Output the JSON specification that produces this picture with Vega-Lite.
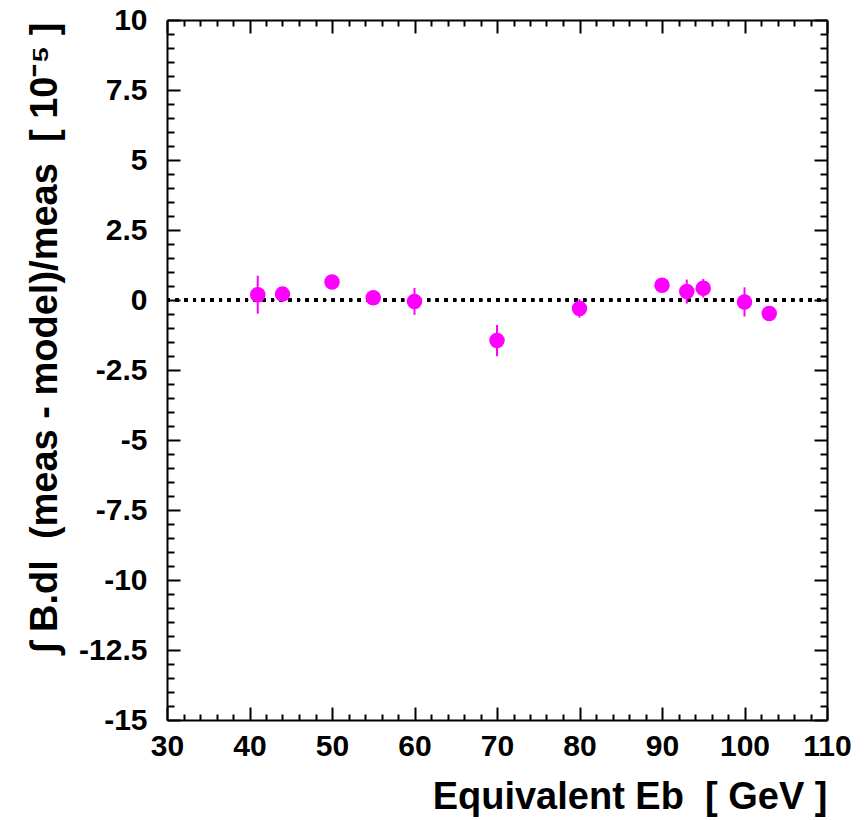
{
  "$schema": "https://vega.github.io/schema/vega-lite/v6.json",
  "width": 660,
  "height": 700,
  "autosize": "none",
  "padding": {"left": 167, "top": 20, "right": 38, "bottom": 100},
  "background": "white",
  "config": {
    "view": {"stroke": null},
    "axis": {
      "grid": false,
      "domainColor": "black",
      "domainWidth": 2,
      "tickColor": "black",
      "tickWidth": 2,
      "labelFont": "Liberation Sans",
      "labelFontWeight": "bold",
      "labelFontSize": 30,
      "labelColor": "black",
      "labelOverlap": false,
      "labelFlush": false,
      "labelBound": false,
      "titleFont": "Liberation Sans",
      "titleFontWeight": "bold",
      "titleFontSize": 38,
      "titleColor": "black"
    }
  },
  "data": {
    "values": [
      {"E": 41, "d": 0.19, "lo": -0.49, "hi": 0.87},
      {"E": 44, "d": 0.21, "lo": 0.01, "hi": 0.41},
      {"E": 50, "d": 0.64, "lo": 0.44, "hi": 0.84},
      {"E": 55, "d": 0.08, "lo": -0.12, "hi": 0.28},
      {"E": 60, "d": -0.05, "lo": -0.53, "hi": 0.43},
      {"E": 70, "d": -1.45, "lo": -2.01, "hi": -0.89},
      {"E": 80, "d": -0.30, "lo": -0.63, "hi": 0.03},
      {"E": 90, "d": 0.53, "lo": 0.33, "hi": 0.73},
      {"E": 93, "d": 0.30, "lo": -0.13, "hi": 0.73},
      {"E": 95, "d": 0.42, "lo": 0.09, "hi": 0.75},
      {"E": 100, "d": -0.07, "lo": -0.59, "hi": 0.45},
      {"E": 103, "d": -0.48, "lo": -0.68, "hi": -0.28}
    ]
  },
  "resolve": {"axis": {"x": "independent", "y": "independent"}},
  "layer": [
    {
      "mark": {"type": "rule", "color": "black", "strokeWidth": 3, "strokeDash": [3, 5.67]},
      "encoding": {
        "x": {
          "datum": 30,
          "type": "quantitative",
          "scale": {"domain": [30, 110], "nice": false, "zero": false},
          "axis": {
            "orient": "bottom",
            "title": "Equivalent Eb\u00a0\u00a0[ GeV ]",
            "titleX": 660,
            "titleY": 88,
            "titleAlign": "right",
            "titleAnchor": "end",
            "titleBaseline": "alphabetic",
            "values": [30,32,34,36,38,40,42,44,46,48,50,52,54,56,58,60,62,64,66,68,70,72,74,76,78,80,82,84,86,88,90,92,94,96,98,100,102,104,106,108,110],
            "tickSize": {"condition": {"test": "datum.value % 10 === 0", "value": -13}, "value": -6},
            "labelExpr": "datum.value % 10 === 0 ? '' + datum.value : ''",
            "labelPadding": 24,
            "labelBaseline": "top"
          }
        },
        "x2": {"datum": 110},
        "y": {
          "datum": 0,
          "type": "quantitative",
          "scale": {"domain": [-15, 10], "nice": false, "zero": false},
          "axis": {
            "orient": "left",
            "title": "∫ B.dl\u00a0\u00a0(meas - model)/meas\u00a0\u00a0[ 10⁻⁵ ]",
            "titleX": -111,
            "titleY": 2,
            "titleAngle": -90,
            "titleAlign": "right",
            "titleAnchor": "end",
            "titleBaseline": "alphabetic",
            "values": [-15,-14.5,-14,-13.5,-13,-12.5,-12,-11.5,-11,-10.5,-10,-9.5,-9,-8.5,-8,-7.5,-7,-6.5,-6,-5.5,-5,-4.5,-4,-3.5,-3,-2.5,-2,-1.5,-1,-0.5,0,0.5,1,1.5,2,2.5,3,3.5,4,4.5,5,5.5,6,6.5,7,7.5,8,8.5,9,9.5,10],
            "tickSize": {"condition": {"test": "datum.value % 2.5 === 0", "value": -13}, "value": -7},
            "labelExpr": "datum.value % 2.5 === 0 ? '' + datum.value : ''",
            "labelPadding": 33,
            "labelBaseline": "middle"
          }
        }
      }
    },
    {
      "mark": {"type": "rule", "color": "#FF00FF", "strokeWidth": 2},
      "encoding": {
        "x": {
          "field": "E",
          "type": "quantitative",
          "scale": {"domain": [30, 110], "nice": false, "zero": false},
          "axis": {
            "orient": "top",
            "title": null,
            "labels": false,
            "values": [30,32,34,36,38,40,42,44,46,48,50,52,54,56,58,60,62,64,66,68,70,72,74,76,78,80,82,84,86,88,90,92,94,96,98,100,102,104,106,108,110],
            "tickSize": {"condition": {"test": "datum.value % 10 === 0", "value": -13}, "value": -6}
          }
        },
        "y": {
          "field": "lo",
          "type": "quantitative",
          "scale": {"domain": [-15, 10], "nice": false, "zero": false},
          "axis": {
            "orient": "right",
            "title": null,
            "labels": false,
            "values": [-15,-14.5,-14,-13.5,-13,-12.5,-12,-11.5,-11,-10.5,-10,-9.5,-9,-8.5,-8,-7.5,-7,-6.5,-6,-5.5,-5,-4.5,-4,-3.5,-3,-2.5,-2,-1.5,-1,-0.5,0,0.5,1,1.5,2,2.5,3,3.5,4,4.5,5,5.5,6,6.5,7,7.5,8,8.5,9,9.5,10],
            "tickSize": {"condition": {"test": "datum.value % 2.5 === 0", "value": -13}, "value": -7}
          }
        },
        "y2": {"field": "hi"}
      }
    },
    {
      "mark": {"type": "point", "filled": true, "color": "#FF00FF", "opacity": 1, "size": 240, "shape": "circle"},
      "encoding": {
        "x": {"field": "E", "type": "quantitative", "axis": null},
        "y": {"field": "d", "type": "quantitative", "axis": null}
      }
    }
  ]
}
